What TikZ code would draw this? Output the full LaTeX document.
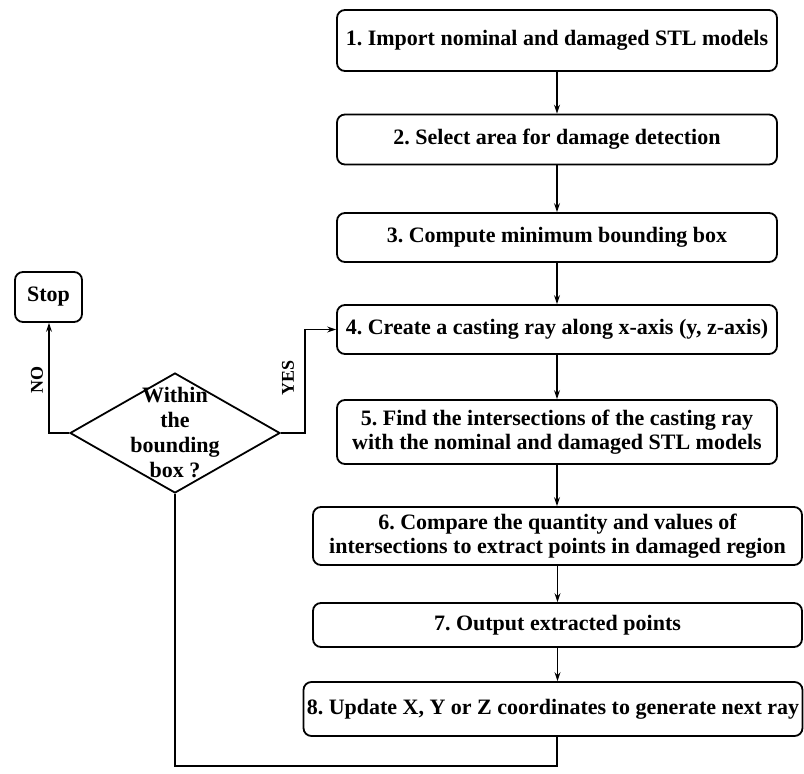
\documentclass[tikz,border=0pt]{standalone}
\usepackage{fontspec}
\setmainfont{Liberation Serif}
\frenchspacing
\usetikzlibrary{shapes.geometric,arrows.meta}
\begin{document}
\begin{tikzpicture}[x=1pt,y=-1pt,
  every node/.style={font=\bfseries\fontsize{22}{24.5}\selectfont},
  stepbox/.style={draw, line width=1.8pt, rounded corners=8pt, inner sep=0pt, align=center},
  link/.style={line width=1.8pt},
  arr/.style={link, -{Stealth[length=9pt,width=6pt]}},
  side/.style={rotate=90, font=\bfseries\fontsize{18}{20}\selectfont}
]
\useasboundingbox (0,0) rectangle (804,774);
\node[stepbox, minimum width=440pt, minimum height=61pt] (b1) at (557,40.5) {1. Import nominal and damaged STL models};
\node[stepbox, minimum width=440pt, minimum height=50pt] (b2) at (557,139.5) {2. Select area for damage detection};
\node[stepbox, minimum width=440pt, minimum height=49pt] (b3) at (557,237.5) {3. Compute minimum bounding box};
\node[stepbox, minimum width=440pt, minimum height=49pt] (b4) at (557,329.5) {4. Create a casting ray along x-axis (y, z-axis)};
\node[stepbox, minimum width=440pt, minimum height=64pt] (b5) at (557,432) {5. Find the intersections of the casting ray\\with the nominal and damaged STL models};
\node[stepbox, minimum width=489pt, minimum height=58pt] (b6) at (557.5,536) {6. Compare the quantity and values of\\intersections to extract points in damaged region};
\node[stepbox, minimum width=489pt, minimum height=44pt] (b7) at (557.5,625) {7. Output extracted points};
\node[stepbox, minimum width=499pt, minimum height=54pt] (b8) at (553,709) {8. Update X, Y or Z coordinates to generate next ray};
\node[stepbox, minimum width=67pt, minimum height=50pt] (stop) at (48.5,297) {Stop};
\node[diamond, draw, line width=1.8pt, minimum width=210pt, minimum height=120pt, inner sep=0pt,
  label={[align=center, font=\bfseries\fontsize{22}{25}\selectfont]center:Within\\the\\bounding\\box ?}] (dec) at (175,433) {};
\coordinate (loopr) at (557,766);
\coordinate (loopl) at (175,766);
\coordinate (nocorner) at (49,433);
\coordinate (yescorner) at (305,433);
\draw[arr] (b1.south) -- (b1.south |- b2.north);
\draw[arr] (b2.south) -- (b2.south |- b3.north);
\draw[arr] (b3.south) -- (b3.south |- b4.north);
\draw[arr] (b4.south) -- (b4.south |- b5.north);
\draw[arr] (b5.south) -- (b5.south |- b6.north);
\draw[arr] (b6.south) -- (b6.south |- b7.north);
\draw[arr] (b7.south) -- (b7.south |- b8.north);
\draw[link] (b8.south -| loopr) -- (loopr) -- (loopl) -- (dec.south);
\draw[arr] (dec.west) -- (nocorner) -- (stop.south -| nocorner);
\draw[arr] (dec.east) -- (yescorner) |- (b4.west);
\node[side] (nolbl) at (37,380) {NO};
\node[side] (yeslbl) at (288,378) {YES};
\end{tikzpicture}
\end{document}
